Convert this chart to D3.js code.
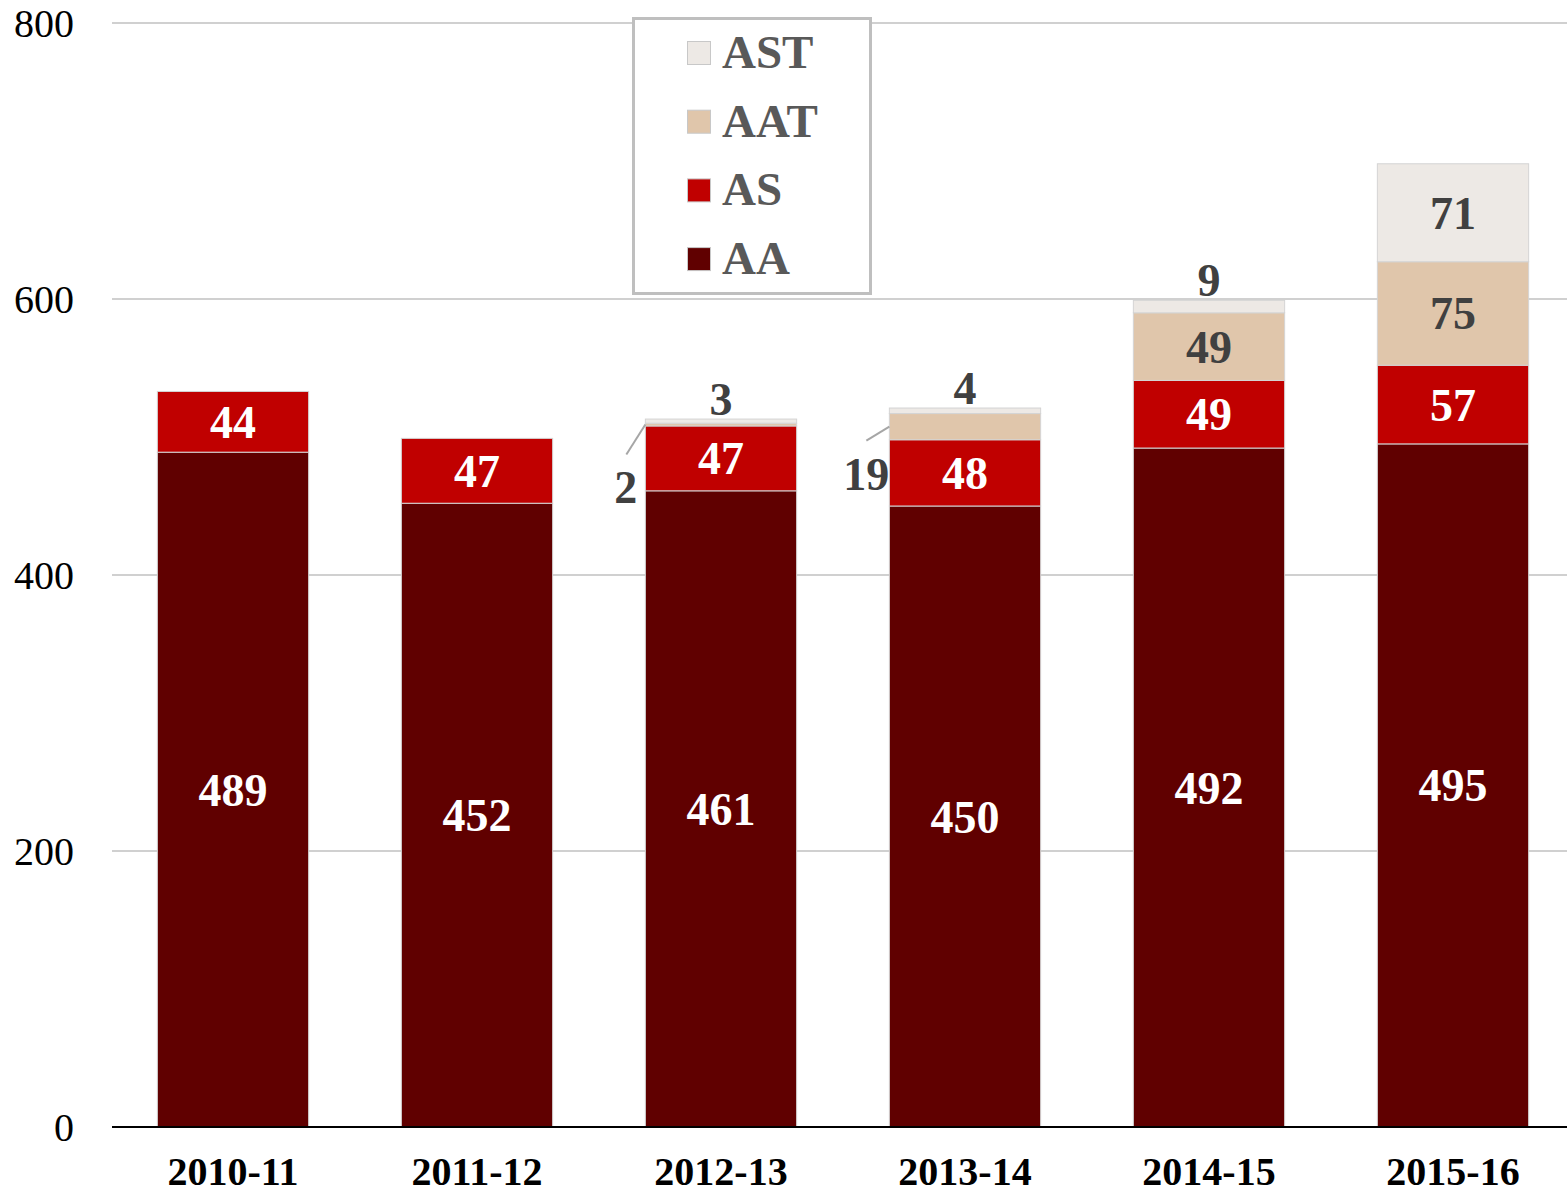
<!DOCTYPE html>
<html lang="en">
<head>
    <meta charset="utf-8">
    <title>Stacked bars</title>
    <script src="https://cdn.jsdelivr.net/npm/d3@7"></script>
    <style type="text/css">
        body { margin: 0; background: #fff; }
        svg text { font-family: "Liberation Serif", "Times New Roman", serif; }
    </style>
</head>
<body>
    <div id="chart"></div>
    <script>
        // data
        var years = ["2010-11", "2011-12", "2012-13", "2013-14", "2014-15", "2015-16"];
        var seriesNames = ["AA", "AS", "AAT", "AST"];
        var aa = [489, 452, 461, 450, 492, 495];
        var as = [44, 47, 47, 48, 49, 57];
        var aat = [0, 0, 2, 19, 49, 75];
        var ast = [0, 0, 3, 4, 9, 71];
        var yTicks = [0, 200, 400, 600, 800];

        var colors = { AA: "#600000", AS: "#c00000", AAT: "#e0c6ab", AST: "#ede9e5" };
        var labelColors = { AA: "#ffffff", AS: "#ffffff", AAT: "#404040", AST: "#404040" };

        var width = 1567, height = 1196;

        var rows = years.map(function (y, i) {
            return { year: y, AA: aa[i], AS: as[i], AAT: aat[i], AST: ast[i] };
        });

        var svg = d3.select("#chart")
            .append("svg")
            .attr("width", width)
            .attr("height", height);

        var x = d3.scaleBand()
            .domain(years)
            .range([111, 1575])
            .paddingInner(0.38)
            .paddingOuter(0.19);

        var y = d3.scaleLinear()
            .domain([0, 800])
            .range([1127, 23]);

        //grid
        svg.selectAll(".grid")
            .data(yTicks.slice(1))
            .enter()
            .append("line")
            .attr("x1", 112)
            .attr("x2", width)
            .attr("y1", d => y(d))
            .attr("y2", d => y(d))
            .attr("stroke", "#d0d0d0")
            .attr("stroke-width", 2);

        svg.selectAll(".ytick")
            .data(yTicks)
            .enter()
            .append("text")
            .attr("x", 74)
            .attr("y", d => y(d) + 14)
            .attr("text-anchor", "end")
            .attr("font-size", 40)
            .attr("fill", "#000")
            .text(d => d);

        var stack = d3.stack().keys(seriesNames)(rows);

        var groups = svg.selectAll(".series")
            .data(stack)
            .enter()
            .append("g")
            .attr("fill", d => colors[d.key]);

        groups.selectAll("rect")
            .data(d => d.filter(s => s[1] - s[0] > 0))
            .enter()
            .append("rect")
            .attr("x", d => x(d.data.year))
            .attr("y", d => y(d[1]))
            .attr("width", x.bandwidth())
            .attr("height", d => y(d[0]) - y(d[1]))
            .attr("stroke", "#d4d4d4")
            .attr("stroke-width", 1);

        // baseline
        svg.append("line")
            .attr("x1", 112)
            .attr("x2", width)
            .attr("y1", y(0))
            .attr("y2", y(0))
            .attr("stroke", "#000")
            .attr("stroke-width", 2);

        // value labels
        stack.forEach(function (layer) {
            layer.forEach(function (s) {
                var v = s[1] - s[0];
                if (v <= 0) return;
                var x0 = x(s.data.year);
                var cx = x0 + x.bandwidth() / 2;
                var top = y(s[1]), bot = y(s[0]);
                var mid = (top + bot) / 2;
                var t = svg.append("text")
                    .attr("font-size", 46)
                    .attr("font-weight", "bold")
                    .attr("fill", labelColors[layer.key])
                    .text(v);
                if (bot - top >= 40) {
                    t.attr("x", cx).attr("y", mid + 16).attr("text-anchor", "middle");
                } else if (layer.key == "AST") {
                    t.attr("x", cx).attr("y", top - 4).attr("text-anchor", "middle")
                        .attr("fill", "#404040");
                } else {
                    t.attr("x", x0 - (v < 10 ? 8 : 0)).attr("y", mid + (v < 10 ? 78 : 63)).attr("text-anchor", "end")
                        .attr("fill", "#404040");
                    svg.append("line")
                        .attr("x1", x0)
                        .attr("y1", mid)
                        .attr("x2", x0 - (v < 10 ? 19 : 23))
                        .attr("y2", mid + (v < 10 ? 30 : 14))
                        .attr("stroke", "#a6a6a6")
                        .attr("stroke-width", 2);
                }
            });
        });

        // x labels
        svg.selectAll(".xlab")
            .data(years)
            .enter()
            .append("text")
            .attr("x", d => x(d) + x.bandwidth() / 2)
            .attr("y", 1185)
            .attr("text-anchor", "middle")
            .attr("font-size", 40)
            .attr("font-weight", "bold")
            .attr("fill", "#000")
            .text(d => d);

        //legend
        var legend = svg.append("g");
        legend.append("rect")
            .attr("x", 633.5)
            .attr("y", 18.5)
            .attr("width", 237)
            .attr("height", 275)
            .attr("fill", "#fff")
            .attr("stroke", "#bfbfbf")
            .attr("stroke-width", 3);

        var legendItems = seriesNames.slice().reverse();
        legend.selectAll(".lsw")
            .data(legendItems)
            .enter()
            .append("rect")
            .attr("x", 687.5)
            .attr("y", (d, i) => 41.5 + i * 68.7)
            .attr("width", 23)
            .attr("height", 23)
            .attr("fill", d => colors[d])
            .attr("stroke", "#c8c8c8")
            .attr("stroke-width", 1);

        legend.selectAll(".ltx")
            .data(legendItems)
            .enter()
            .append("text")
            .attr("x", 722)
            .attr("y", (d, i) => 68 + i * 68.7)
            .attr("font-size", 47)
            .attr("font-weight", "bold")
            .attr("fill", "#595959")
            .text(d => d);
    </script>
</body>
</html>
